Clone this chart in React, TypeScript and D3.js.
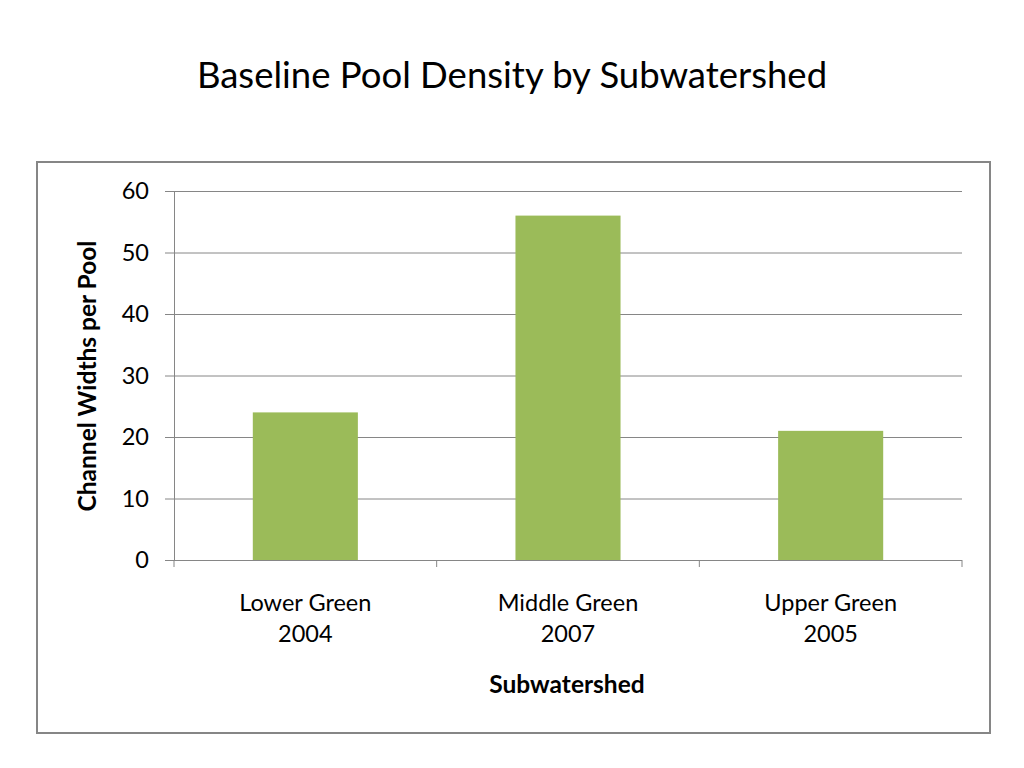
import React, { useRef, useEffect } from "react";
import * as d3 from "d3";

// chart data
const categories = ["Lower Green|2004", "Middle Green|2007", "Upper Green|2005"];
const poolDensity = [24, 56, 21];
const yTicks = [0, 10, 20, 30, 40, 50, 60];

const FONT = "Lato, 'Open Sans', sans-serif";

export default function App() {
    const svgRef = useRef<SVGSVGElement | null>(null);

    useEffect(() => {
        document.body.style.margin = "0";
        if (!svgRef.current) return;

        const width = 1024;
        const height = 768;
        const plot = { left: 174, right: 962, top: 191, bottom: 560 };

        const svg = d3.select(svgRef.current);
        svg.selectAll("*").remove();

        svg.append("rect")
            .attr("width", width)
            .attr("height", height)
            .attr("fill", "#fff");

        svg.append("text")
            .attr("x", 512)
            .attr("y", 88)
            .attr("text-anchor", "middle")
            .attr("font-family", FONT)
            .attr("font-size", 36.5)
            .attr("fill", "#000")
            .text("Baseline Pool Density by Subwatershed");

        // chart frame
        svg.append("rect")
            .attr("x", 37)
            .attr("y", 162)
            .attr("width", 953)
            .attr("height", 571)
            .attr("fill", "#fff")
            .attr("stroke", "#868686")
            .attr("stroke-width", 2);

        const x = d3
            .scaleBand()
            .domain(categories)
            .range([plot.left, plot.right])
            .paddingInner(0.6)
            .paddingOuter(0.3);

        const y = d3
            .scaleLinear()
            .domain([0, 60])
            .range([plot.bottom, plot.top]);

        // gridlines + y ticks
        const yAxis = svg
            .append("g")
            .attr("transform", `translate(${plot.left},0)`)
            .call(
                d3
                    .axisLeft(y)
                    .tickValues(yTicks)
                    .tickSize(-(plot.right - plot.left))
                    .tickSizeOuter(0)
                    .tickPadding(25),
            );
        yAxis.select(".domain").attr("stroke", "#868686");
        yAxis
            .selectAll(".tick line")
            .attr("stroke", "#868686")
            .attr("x1", -9);
        yAxis
            .selectAll(".tick text")
            .attr("font-family", FONT)
            .attr("font-size", 23.5)
            .attr("fill", "#000");

        // bars
        svg.append("g")
            .selectAll("rect")
            .data(poolDensity)
            .join("rect")
            .attr("x", (_, i) => x(categories[i]) as number)
            .attr("y", (d) => y(d))
            .attr("width", x.bandwidth())
            .attr("height", (d) => y(0) - y(d))
            .attr("fill", "#9BBB59");

        // x axis with ticks at category boundaries
        const step = x.step();
        const xg = svg.append("g");
        xg.append("line")
            .attr("x1", plot.left)
            .attr("x2", plot.right)
            .attr("y1", plot.bottom + 0.5)
            .attr("y2", plot.bottom + 0.5)
            .attr("stroke", "#868686");
        const bounds = d3.range(categories.length + 1).map((i) => plot.left + i * step);
        xg.selectAll("line.tk")
            .data(bounds)
            .join("line")
            .attr("class", "tk")
            .attr("x1", (d) => d)
            .attr("x2", (d) => d)
            .attr("y1", plot.bottom)
            .attr("y2", plot.bottom + 7)
            .attr("stroke", "#868686");

        xg.selectAll("text.cat")
            .data(categories)
            .join("text")
            .attr("class", "cat")
            .attr("text-anchor", "middle")
            .attr("font-family", FONT)
            .attr("font-size", 23.5)
            .attr("fill", "#000")
            .each(function (d) {
                const cx = (x(d) as number) + x.bandwidth() / 2;
                const parts = d.split("|");
                d3.select(this)
                    .selectAll("tspan")
                    .data(parts)
                    .join("tspan")
                    .attr("x", cx)
                    .attr("y", (_, j) => 611 + j * 31)
                    .text((t) => t);
            });

        svg.append("text")
            .attr("x", 567)
            .attr("y", 693)
            .attr("text-anchor", "middle")
            .attr("font-family", FONT)
            .attr("font-size", 24.5)
            .attr("font-weight", "bold")
            .attr("fill", "#000")
            .text("Subwatershed");

        svg.append("text")
            .attr("transform", `translate(96,376) rotate(-90)`)
            .attr("text-anchor", "middle")
            .attr("font-family", FONT)
            .attr("font-size", 24.5)
            .attr("font-weight", "bold")
            .attr("fill", "#000")
            .text("Channel Widths per Pool");
    }, []);

    return <svg ref={svgRef} width={1024} height={768} style={{ display: "block" }}></svg>;
}
